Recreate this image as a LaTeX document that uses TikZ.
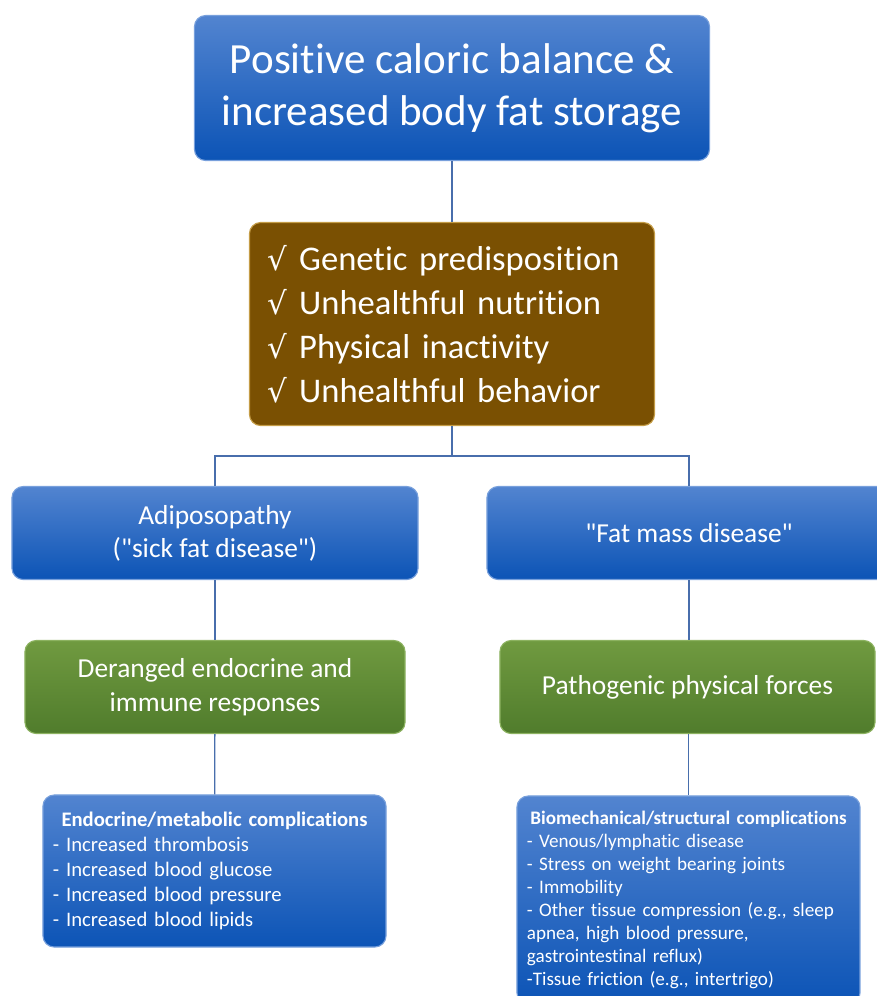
\documentclass[tikz,border=0pt]{standalone}
\usepackage{fontspec}
\setmainfont{Carlito}[Ligatures={TeX,NoCommon}]
\newfontfamily\symfont{DejaVu Sans}
\usetikzlibrary{
positioning,
calc
}
\definecolor{blueTop}{RGB}{82,132,208}
\definecolor{blueBot}{RGB}{12,84,182}
\definecolor{blueEdge}{RGB}{120,160,220}
\definecolor{riskBrown}{RGB}{122,80,2}
\definecolor{riskEdge}{RGB}{196,156,70}
\definecolor{greenTop}{RGB}{112,154,64}
\definecolor{greenBot}{RGB}{80,124,44}
\definecolor{greenEdge}{RGB}{140,178,96}
\definecolor{linkBlue}{RGB}{72,110,172}
\tikzset{
box/.style={
draw,
rounded corners=8pt,
line width=0.8pt,
align=center,
text=white
},
bluebox/.style={
box,
draw=blueEdge,
top color=blueTop,
bottom color=blueBot
},
brownbox/.style={
box,
draw=riskEdge,
fill=riskBrown
},
greenbox/.style={
box,
draw=greenEdge,
top color=greenTop,
bottom color=greenBot
},
link/.style={
draw=linkBlue,
line width=0.9pt
}
}
\newcommand{\chk}{{\symfont\fontsize{22}{22}\selectfont\char"221A}\ }

\begin{document}
\begin{tikzpicture}[x=0.025cm,y=-0.025cm]
\useasboundingbox (0,0) rectangle (877,996);

\node[bluebox, minimum width=12.875cm, minimum height=3.625cm,
font=\fontsize{30.6}{37}\selectfont] (balance) at (452,88)
{Positive caloric balance \&\\increased body fat storage};

\node[brownbox, minimum width=10.125cm, minimum height=5.075cm,
inner xsep=0.45cm, text width=9.2cm, align=left,
font=\fontsize{24.6}{31.3}\selectfont] (risk) at (452,324)
{\chk Genetic predisposition\\\chk Unhealthful nutrition\\\chk Physical inactivity\\\chk Unhealthful behavior};

\node[bluebox, minimum width=10.15cm, minimum height=2.325cm,
font=\fontsize{19.5}{23.5}\selectfont] (sick) at (215,533)
{Adiposopathy\\(\textquotedbl sick fat disease\textquotedbl)};
\node[bluebox, minimum width=10.1cm, minimum height=2.325cm,
font=\fontsize{19.5}{23.5}\selectfont] (mass) at (689,533)
{\textquotedbl Fat mass disease\textquotedbl};

\node[greenbox, minimum width=9.5cm, minimum height=2.325cm,
font=\fontsize{19.5}{24.2}\selectfont] (endo) at (215,687)
{Deranged endocrine and\\immune responses};
\node[greenbox, minimum width=9.375cm, minimum height=2.325cm,
font=\fontsize{19.5}{24.2}\selectfont] (force) at (687.5,687)
{Pathogenic physical forces};

\node[bluebox, minimum width=8.575cm, minimum height=3.8cm,
inner xsep=0.25cm, text width=8.075cm, align=left,
font=\fontsize{14.7}{17.8}\selectfont] (metab) at (214.5,871)
{\makebox[\linewidth]{\bfseries Endocrine/metabolic complications}\\
- Increased thrombosis\\
- Increased blood glucose\\
- Increased blood pressure\\
- Increased blood lipids};

\node[bluebox, minimum width=8.575cm, minimum height=5.2cm,
inner xsep=0.25cm, text width=8.075cm, align=left,
font=\fontsize{13.6}{16.4}\selectfont] (struct) at (688.5,900)
{\makebox[\linewidth]{\bfseries Biomechanical/structural complications}\\
- Venous/lymphatic disease\\
- Stress on weight bearing joints\\
- Immobility\\
- Other tissue compression (e.g., sleep\\
apnea, high blood pressure,\\
gastrointestinal reflux)\\
-Tissue friction (e.g., intertrigo)};

\draw[link] (balance) -- (risk);
\draw[link] (risk.south) -- ++(0,30) -| (sick.north);
\draw[link] (risk.south) -- ++(0,30) -| (mass.north);
\draw[link] (sick) -- (endo);
\draw[link] (mass) -- (mass |- force.north);
\draw[link] (endo) -- (metab);
\draw[link] (force.south -| struct.north) -- (struct.north);

\end{tikzpicture}
\end{document}
